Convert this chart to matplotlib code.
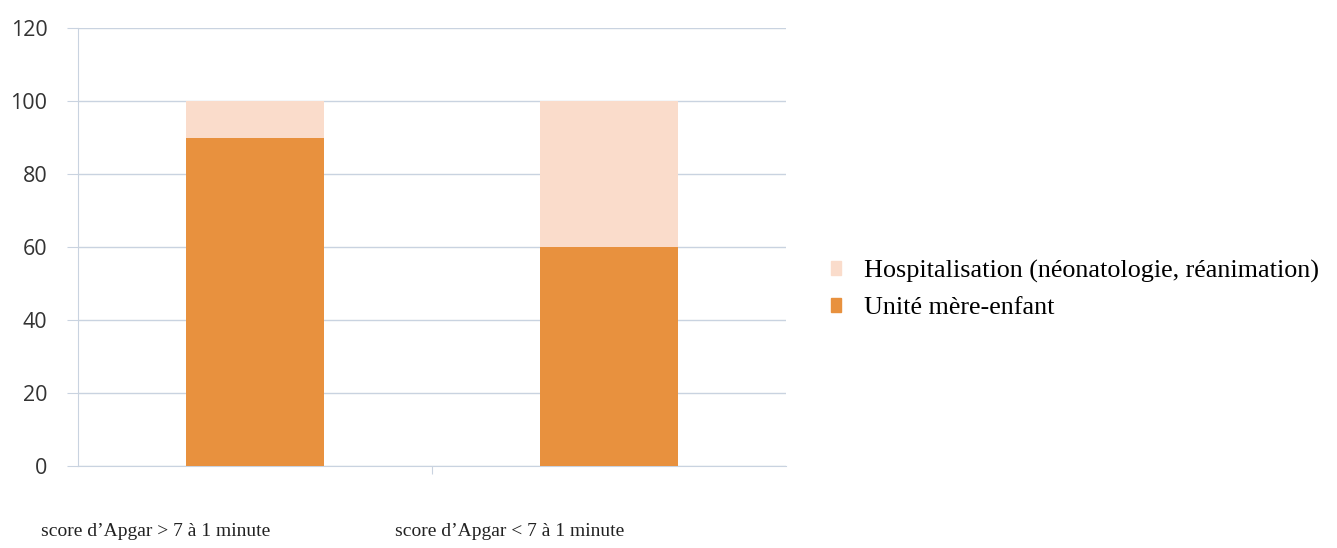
import matplotlib.pyplot as plt
import matplotlib.transforms as mtransforms
from matplotlib.patches import Patch

categories = ["score d\u2019Apgar > 7 à 1 minute", "score d\u2019Apgar < 7 à 1 minute"]
unite = [90, 60]
hospit = [10, 40]
series_names = ["Unité mère-enfant", "Hospitalisation (néonatologie, réanimation)"]

orange = "#E8913E"
light = "#FADCCB"
grid_col = "#C9D3E0"

fig = plt.figure(figsize=(13.37, 5.48), dpi=100)
ax = fig.add_axes([0.0583, 0.1496, 0.5295, 0.7993])

x = range(len(categories))
ax.bar(x, unite, width=0.39, color=orange, zorder=3)
ax.bar(x, hospit, width=0.39, bottom=unite, color=light, zorder=3)

ax.set_xlim(-0.5, 1.5)
ax.set_ylim(0, 120)
ax.set_yticks(range(0, 121, 20))
ax.yaxis.grid(True, color=grid_col, linewidth=1, zorder=0)
ax.tick_params(axis="y", length=8, color=grid_col, labelsize=15.5, labelcolor="#333333", pad=14)
for lab in ax.get_yticklabels():
    lab.set_family("Open Sans")

ax.set_xticks([0.5])
ax.set_xticklabels([""])
ax.tick_params(axis="x", which="major", length=6, color=grid_col, direction="out")

# category labels sit left of the bars in the original
trans = mtransforms.blended_transform_factory(ax.transData, ax.transAxes)
for i, c in enumerate(categories):
    ax.text(i - 0.28, -0.15, c, transform=trans, ha="center", va="center",
            family="Liberation Serif", fontsize=14, color="#222222")

for s in ["top", "right"]:
    ax.spines[s].set_visible(False)
ax.spines["left"].set_color(grid_col)
ax.spines["bottom"].set_color(grid_col)

handles = [Patch(color=light), Patch(color=orange)]
fig.legend(handles, [series_names[1], series_names[0]], loc="center left",
           bbox_to_anchor=(0.604, 0.472), frameon=False, handlelength=0.4, handleheight=0.45,
           handletextpad=0.85, labelspacing=0.55,
           prop={"family": "Liberation Serif", "size": 18.8})

fig.savefig("out.png", dpi=100)
